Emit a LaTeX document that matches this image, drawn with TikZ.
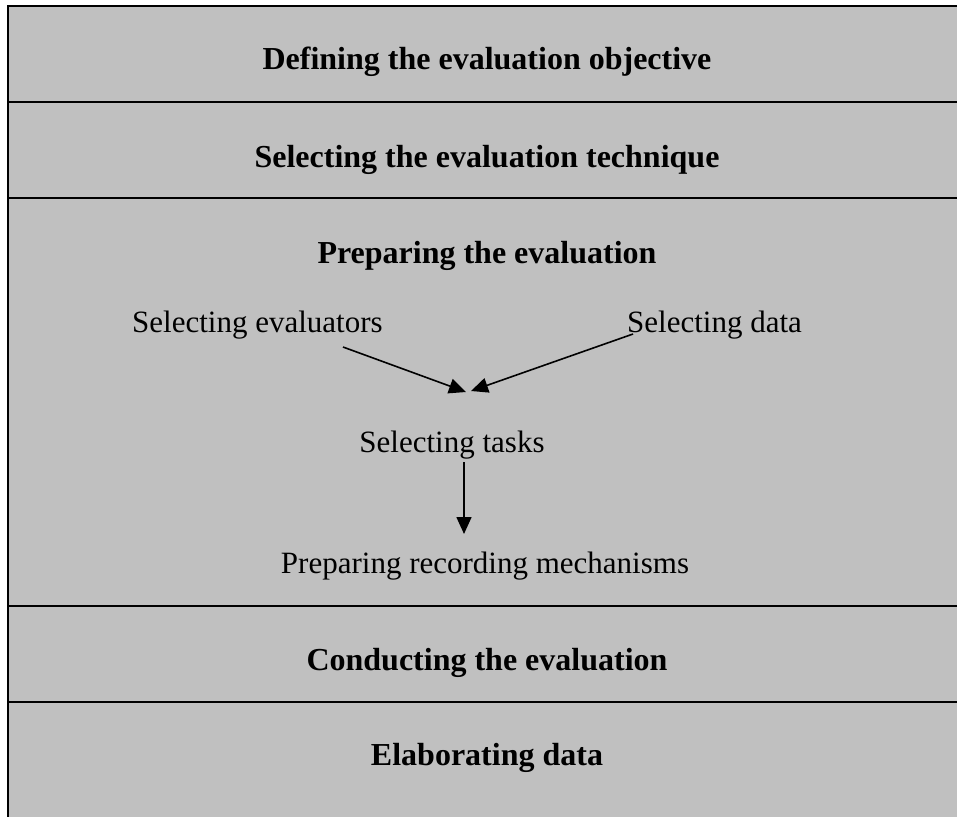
\documentclass[tikz,border=0pt]{standalone}
\usepackage{fontspec}
\setmainfont{Liberation Serif}
\usetikzlibrary{arrows.meta}
\definecolor{panel}{HTML}{C0C0C0}

\begin{document}
\begin{tikzpicture}[x=1pt, y=-1pt,
    stage/.style={anchor=base, inner sep=0pt, font=\fontsize{32}{38}\selectfont\bfseries},
    task/.style={anchor=base, inner sep=0pt, font=\fontsize{31}{37}\selectfont},
    rule/.style={line width=2.5pt},
    flow/.style={-{Triangle[length=17pt,width=15pt]}, line width=1.6pt}]
  \useasboundingbox (0,0) rectangle (957,816);
  \fill[white] (0,0) rectangle (957,816);
  \fill[panel] (8,6) rectangle (980,840);
  % frame and the stage separators
  \draw[rule] (8,840) -- (8,6) -- (980,6);
  \foreach \y in {102,198,606,702}
    \draw[rule] (8,\y) -- (980,\y);

  % stages
  \node[stage] (objective) at (487,70) {Defining the evaluation objective};
  \node[stage] (technique) at (487,167) {Selecting the evaluation technique};
  \node[stage] (preparing) at (487,263) {Preparing the evaluation};
  \node[stage] (conducting) at (487,670) {Conducting the evaluation};
  \node[stage] (elaborating) at (487,765) {Elaborating data};

  % preparation steps
  \node[task, anchor=base west] (evaluators) at (132,332) {Selecting evaluators};
  \node[task, anchor=base west] (data) at (627,332) {Selecting data};
  \node[task] (tasks) at (452,452) {Selecting tasks};
  \node[task] (recording) at (485,573) {Preparing recording mechanisms};

  \coordinate (evalfoot) at (343,347);
  \coordinate (datafoot) at (633,334);
  \coordinate (leftin) at (466,392);
  \coordinate (rightin) at (471,391);
  \coordinate (tasksfoot) at (464,462);
  \coordinate (recordtop) at (464,534);
  \draw[flow] (evalfoot) -- (leftin);
  \draw[flow] (datafoot) -- (rightin);
  \draw[flow] (tasksfoot) -- (recordtop);
\end{tikzpicture}
\end{document}
